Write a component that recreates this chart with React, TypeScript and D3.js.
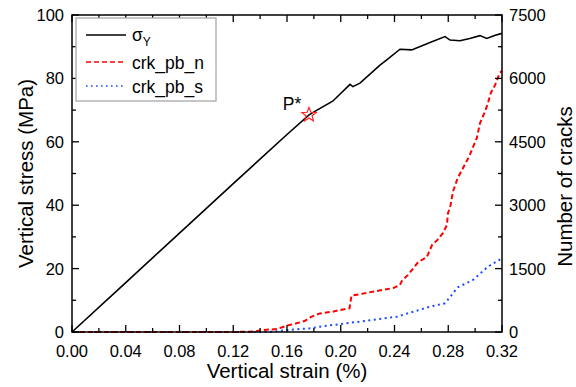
import React from "react";
import * as d3 from "d3";

const stressStrain = [0, 0.04, 0.08, 0.12, 0.16, 0.1764, 0.182, 0.194, 0.2069, 0.209, 0.2143, 0.2292, 0.234, 0.2441, 0.2528, 0.2664, 0.2776, 0.2813, 0.2887, 0.2960, 0.3036, 0.3086, 0.3150, 0.32];
const stressValues = [0, 15.6, 31.2, 46.8, 62.3, 68.5, 69.9, 72.8, 78.1, 77.4, 78.5, 84.2, 85.8, 89.2, 89.0, 91.3, 93.2, 92.1, 91.9, 92.6, 93.5, 92.6, 93.6, 94.2];

const nStrain = [0, 0.12, 0.135, 0.142, 0.1525, 0.16, 0.167, 0.173, 0.178, 0.1845, 0.194, 0.1994, 0.2065, 0.208, 0.215, 0.225, 0.239, 0.244, 0.2455, 0.25, 0.2575, 0.264, 0.268, 0.272, 0.276, 0.279, 0.2798, 0.2817, 0.2835, 0.287, 0.291, 0.2955, 0.2985, 0.3013, 0.3036, 0.3073, 0.3096, 0.3116, 0.3148, 0.3184, 0.32];
const nCounts = [0, 0, 10, 47, 70, 150, 205, 260, 360, 440, 480, 520, 560, 860, 900, 960, 1040, 1110, 1210, 1350, 1650, 1770, 2060, 2180, 2340, 2530, 2810, 3000, 3320, 3640, 3880, 4150, 4380, 4590, 4940, 5210, 5420, 5650, 5840, 6130, 6180];

const sStrain = [0, 0.14, 0.15, 0.16, 0.17, 0.177, 0.1845, 0.194, 0.214, 0.2415, 0.2665, 0.2776, 0.2825, 0.287, 0.2984, 0.3095, 0.32];
const sCounts = [0, 0, 10, 47, 70, 87, 125, 165, 245, 360, 600, 680, 875, 1057, 1230, 1545, 1744];

const peakPoint = { strain: 0.1764, stress: 68.5, label: "P*" };

const xTicks = [0, 0.04, 0.08, 0.12, 0.16, 0.2, 0.24, 0.28, 0.32];
const yLeftTicks = [0, 20, 40, 60, 80, 100];
const yRightTicks = [0, 1500, 3000, 4500, 6000, 7500];

const legendLabels = ["σ", "crk_pb_n", "crk_pb_s"];

const W = 576, H = 387;
const M = { left: 72, right: 74, top: 15, bottom: 55 };
const FONT = "Liberation Sans, Arial, sans-serif";

export default function App() {
  const x = d3.scaleLinear().domain([0, 0.32]).range([M.left, W - M.right]);
  const yL = d3.scaleLinear().domain([0, 100]).range([H - M.bottom, M.top]);
  const yR = d3.scaleLinear().domain([0, 7500]).range([H - M.bottom, M.top]);
  const x0 = x.range()[0], x1 = x.range()[1];
  const yb = yL.range()[0], yt = yL.range()[1];

  const lineL = d3.line<number>().x((d, i) => x(stressStrain[i])).y((d) => yL(d));
  const lineN = d3.line<number>().x((d, i) => x(nStrain[i])).y((d) => yR(d));
  const lineS = d3.line<number>().x((d, i) => x(sStrain[i])).y((d) => yR(d));

  const xMinor = d3.range(0.02, 0.32, 0.04);
  const yLMinor = d3.range(10, 100, 20);
  const yRMinor = d3.range(750, 7500, 1500);

  const px = x(peakPoint.strain), py = yL(peakPoint.stress);
  const starPts: string[] = [];
  for (let k = 0; k < 10; k++) {
    const r = k % 2 === 0 ? 7.5 : 3.2;
    const a = -Math.PI / 2 + (k * Math.PI) / 5;
    starPts.push(`${px + r * Math.cos(a)},${py + r * Math.sin(a)}`);
  }

  const tickStyle = { stroke: "#000", strokeWidth: 1.3 };
  const lx = 76, ly = 18, lw = 140, lh = 83;
  const rowY = [35, 62, 86];

  return (
    <svg width={W} height={H} style={{ position: "absolute", left: 0, top: 0, background: "#fff" }} fontFamily={FONT}>
      <rect width={W} height={H} fill="#fff" />
      {/* data lines */}
      <path d={lineS(sCounts) || ""} fill="none" stroke="#1a4cff" strokeWidth={2} strokeDasharray="2,3.5" />
      <path d={lineN(nCounts) || ""} fill="none" stroke="#ff0000" strokeWidth={2} strokeDasharray="5,3" />
      <path d={lineL(stressValues) || ""} fill="none" stroke="#000" strokeWidth={1.6} />
      <polygon points={starPts.join(" ")} fill="none" stroke="#ff2020" strokeWidth={1.2} />
      <text x={px - 17} y={py - 5} fontSize={17.5} textAnchor="middle">{peakPoint.label}</text>

      {/* frame */}
      <rect x={x0} y={yt} width={x1 - x0} height={yb - yt} fill="none" stroke="#000" strokeWidth={1.5} />

      {/* x ticks bottom & top */}
      {xTicks.map((t) => (
        <g key={"xt" + t}>
          <line x1={x(t)} x2={x(t)} y1={yb} y2={yb - 7} {...tickStyle} />
          <line x1={x(t)} x2={x(t)} y1={yt} y2={yt + 7} {...tickStyle} />
          <text x={x(t)} y={yb + 25} fontSize={16.5} textAnchor="middle">{d3.format(".2f")(t)}</text>
        </g>
      ))}
      {xMinor.map((t) => (
        <g key={"xm" + t}>
          <line x1={x(t)} x2={x(t)} y1={yb} y2={yb - 4} {...tickStyle} />
          <line x1={x(t)} x2={x(t)} y1={yt} y2={yt + 4} {...tickStyle} />
        </g>
      ))}
      {/* left y ticks */}
      {yLeftTicks.map((t) => (
        <g key={"yl" + t}>
          <line x1={x0} x2={x0 + 7} y1={yL(t)} y2={yL(t)} {...tickStyle} />
          <text x={x0 - 8} y={yL(t) + 6} fontSize={16.5} textAnchor="end">{t}</text>
        </g>
      ))}
      {yLMinor.map((t) => (
        <line key={"ylm" + t} x1={x0} x2={x0 + 4} y1={yL(t)} y2={yL(t)} {...tickStyle} />
      ))}
      {/* right y ticks */}
      {yRightTicks.map((t) => (
        <g key={"yr" + t}>
          <line x1={x1} x2={x1 - 7} y1={yR(t)} y2={yR(t)} {...tickStyle} />
          <text x={x1 + 7} y={yR(t) + 6} fontSize={16.5} textAnchor="start">{t}</text>
        </g>
      ))}
      {yRMinor.map((t) => (
        <line key={"yrm" + t} x1={x1} x2={x1 - 4} y1={yR(t)} y2={yR(t)} {...tickStyle} />
      ))}

      {/* axis titles */}
      <text x={(x0 + x1) / 2} y={378} fontSize={20.5} textAnchor="middle">Vertical strain (%)</text>
      <text transform={`translate(33,${(yt + yb) / 2}) rotate(-90)`} fontSize={20.5} textAnchor="middle">Vertical stress (MPa)</text>
      <text transform={`translate(572,${(yt + yb) / 2 + 13}) rotate(-90)`} fontSize={20.5} textAnchor="middle">Number of cracks</text>

      {/* legend */}
      <rect x={lx} y={ly} width={lw} height={lh} fill="#fff" stroke="#a8a8a8" strokeWidth={1.3} />
      <line x1={86} x2={126} y1={rowY[0]} y2={rowY[0]} stroke="#000" strokeWidth={1.6} />
      <line x1={86} x2={126} y1={rowY[1]} y2={rowY[1]} stroke="#ff0000" strokeWidth={1.6} strokeDasharray="5,3" />
      <line x1={86} x2={126} y1={rowY[2]} y2={rowY[2]} stroke="#1a4cff" strokeWidth={1.6} strokeDasharray="1.6,3.4" />
      <text x={132} y={rowY[0] + 6} fontSize={17.5}>
        {legendLabels[0]}
        <tspan fontSize={12} dy={5}>Y</tspan>
      </text>
      <text x={132} y={rowY[1] + 6.5} fontSize={17.5}>{legendLabels[1]}</text>
      <text x={132} y={rowY[2] + 6.5} fontSize={17.5}>{legendLabels[2]}</text>
    </svg>
  );
}
